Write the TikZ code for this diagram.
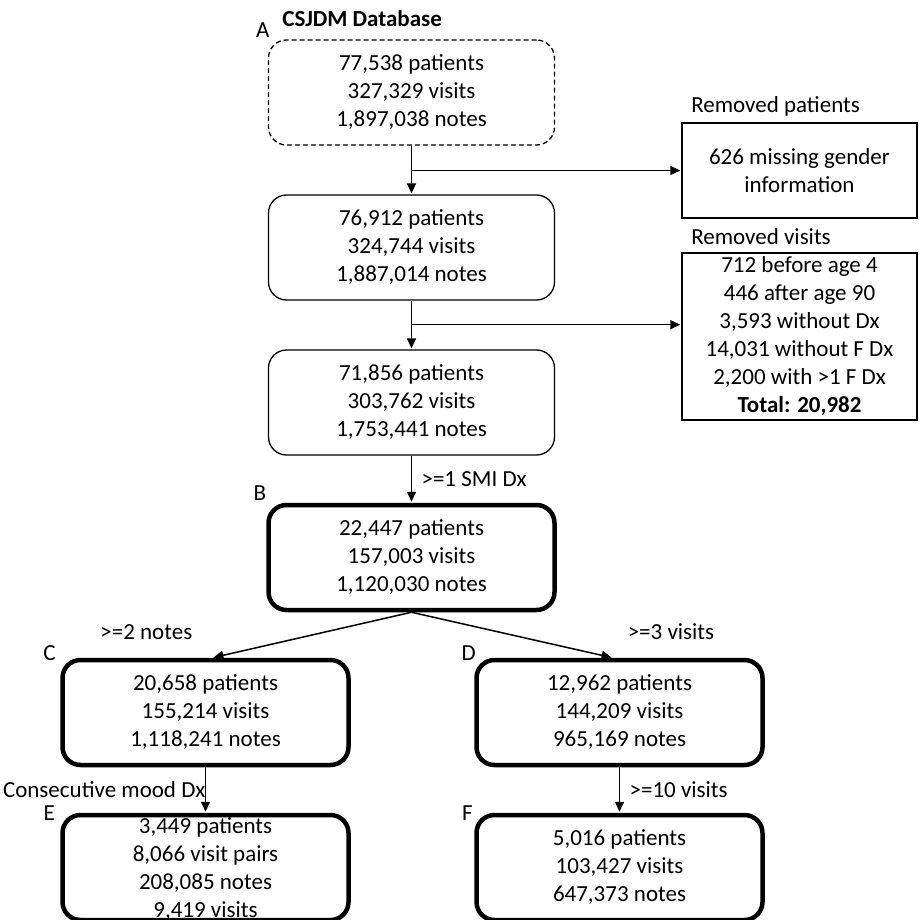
\documentclass[tikz,border=0pt]{standalone}
\usepackage{fontspec}
\setmainfont{Carlito}
\usetikzlibrary{arrows.meta}

\begin{document}
\begin{tikzpicture}[x=1pt,y=1pt,->,>={Triangle[length=10pt,width=9pt]},shorten >=1pt,auto,line width=1.5pt,node distance=155pt,font=\fontsize{23}{28}\selectfont,
	main node/.style={rectangle,rounded corners=18pt,draw,align=center,minimum width=286pt,minimum height=105pt,line width=1.3pt},
	thick node/.style={main node,line width=4.5pt},
	side node/.style={rectangle,draw,align=center,minimum width=235pt,inner sep=2pt,line width=1.5pt},
	letter/.style={anchor=base east,inner sep=0pt,outer sep=0pt},
	head/.style={anchor=base west,inner sep=0pt,outer sep=0pt}]

	\useasboundingbox (0,0) rectangle (918,-920);

	\node[main node,dash pattern=on 5pt off 3pt,label={[letter,xshift=1.5pt,yshift=2pt]north west:A},label={[head,xshift=14.5pt,yshift=13pt]north west:\textbf{CSJDM Database}}] (A) at (411.5,-92.5) {77,538 patients\\327,329 visits\\1,897,038 notes};
	\node[main node] (A2) [below of = A] {76,912 patients\\324,744 visits\\1,887,014 notes};
	\node[main node] (A3) [below of = A2] {71,856 patients\\303,762 visits\\1,753,441 notes};
	\node[thick node,label={[letter,yshift=2pt]north west:B}] (B) [below of = A3] {22,447 patients\\157,003 visits\\1,120,030 notes};
	\node[thick node,label={[letter,xshift=-4.5pt,yshift=-3pt]north west:C}] (C) [below of = B, xshift=-206pt] {20,658 patients\\155,214 visits\\1,118,241 notes};
	\node[thick node,label={[letter,xshift=1.5pt,yshift=-3pt]north west:D}] (D) [below of = B, xshift=208pt] {12,962 patients\\144,209 visits\\965,169 notes};
	\node[thick node,label={[letter,xshift=-5.5pt,yshift=-8pt]north west:E}] (E) [below of = C] {};
	\node[align=center] (Etext) at ([yshift=-2pt]E.center) {3,449 patients\\8,066 visit pairs\\208,085 notes\\9,419 visits};
	\node[thick node,label={[letter,xshift=-1.5pt,yshift=-8pt]north west:F}] (F) [below of = D] {5,016 patients\\103,427 visits\\647,373 notes};

	% removed records
	\node[side node,minimum height=95pt,label={[head,xshift=10pt,yshift=10pt]north west:Removed patients}] (rp) at (799.5,-170.5) {626 missing gender\\information};
	\node[side node,minimum height=167pt,label={[head,xshift=10pt,yshift=8pt]north west:Removed visits}] (rv) at (799.5,-336.5) {712 before age 4\\446 after age 90\\3,593 without Dx\\14,031 without F Dx\\2,200 with >1 F Dx\\\textbf{Total: 20,982}};

	\coordinate (j1) at (A.south |- rp.west);
	\coordinate (j2) at ([yshift=-24pt]A2.south);

	\path
	(A) edge (A2)
	(A2) edge (A3)
	(j1) edge (rp)
	(j2) edge (j2 -| rv.west)
	(A3) edge node[right=6pt] {>=1 SMI Dx} (B)
	(B.south) edge node[pos=1,anchor=base east,inner sep=0pt,xshift=-19.5pt,yshift=18pt] {>=2 notes} ([xshift=7pt]C.north)
	(B.south) edge node[pos=1,anchor=base west,inner sep=0pt,xshift=14.5pt,yshift=18pt] {>=3 visits} ([xshift=-7pt]D.north)
	(C) edge node[left,xshift=4pt] {Consecutive mood Dx} (E)
	(D) edge node[right=6pt] {>=10 visits} (F)
	;
\end{tikzpicture}
\end{document}
